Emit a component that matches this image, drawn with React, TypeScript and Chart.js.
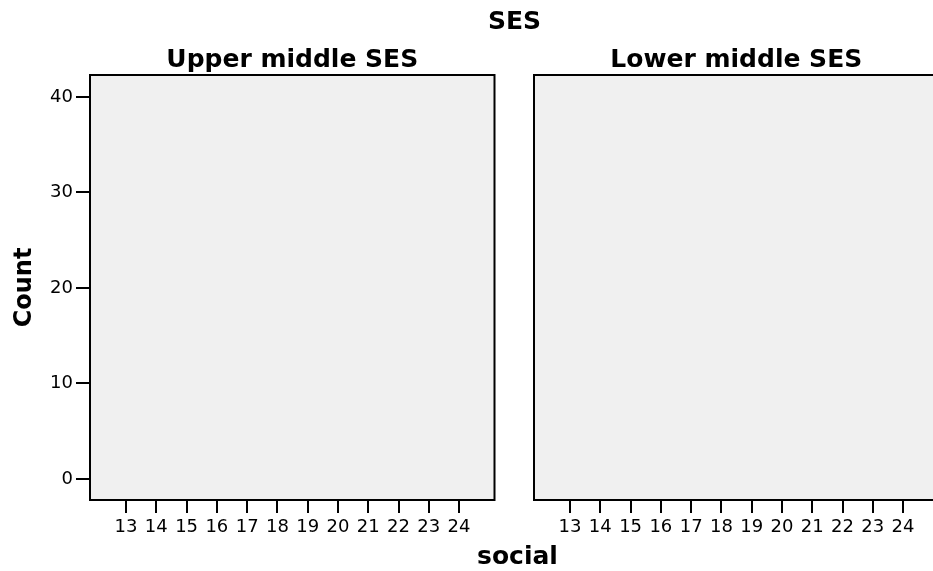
import React, { useEffect, useRef } from "react";
import { Chart, registerables } from "chart.js";

Chart.register(...registerables);

const socialTicks = [13, 14, 15, 16, 17, 18, 19, 20, 21, 22, 23, 24];
const upperMiddleCounts = [0, 0, 0, 0, 0, 0, 0, 0, 0, 0, 0, 0];
const lowerMiddleCounts = [0, 0, 0, 0, 0, 0, 0, 0, 0, 0, 0, 0];
const countTicks = [0, 10, 20, 30, 40];
const panelTitles = ["Upper middle SES", "Lower middle SES"];
const mainTitle = "SES";
const xTitle = "social";
const yTitle = "Count";

const FONT = "'DejaVu Sans', Verdana, sans-serif";

const panelPlugin = {
  id: "panelFrame",
  beforeDatasetsDraw(chart: any) {
    const { ctx, chartArea } = chart;
    ctx.save();
    ctx.fillStyle = "#f0f0f0";
    ctx.fillRect(chartArea.left, chartArea.top, chartArea.right - chartArea.left, chartArea.bottom - chartArea.top);
    ctx.restore();
  },
  afterDraw(chart: any) {
    const { ctx, chartArea } = chart;
    ctx.save();
    ctx.strokeStyle = "#000";
    ctx.lineWidth = 2;
    ctx.strokeRect(chartArea.left, chartArea.top, chartArea.right - chartArea.left, chartArea.bottom - chartArea.top);
    ctx.restore();
  },
};

function makeConfig(title: string, counts: number[], showY: boolean): any {
  return {
    type: "bar",
    data: {
      datasets: [
        {
          label: title,
          // a zero count draws no bar
          data: counts.map((c, i) => ({ x: socialTicks[i], y: c })).filter((p) => p.y > 0),
          backgroundColor: "#d2b48c",
          borderColor: "#000",
          borderWidth: 1,
          barThickness: 24,
        },
      ],
    },
    plugins: [panelPlugin],
    options: {
      animation: false,
      responsive: false,
      devicePixelRatio: 1,
      layout: { padding: { left: 0, right: 5.5, top: 0, bottom: 0 } },
      plugins: {
        legend: { display: false },
        tooltip: { enabled: false },
        title: {
          display: true,
          text: title,
          fullSize: false,
          color: "#000",
          font: { family: FONT, size: 25, weight: "bold", lineHeight: 1.2 },
          padding: { top: 45, bottom: 0 },
        },
      },
      scales: {
        x: {
          type: "linear",
          min: 11.81,
          max: 25.17,
          offset: false,
          afterBuildTicks: (scale: any) => {
            scale.ticks = socialTicks.map((v) => ({ value: v }));
          },
          afterFit: (scale: any) => {
            scale.height = 71;
          },
          border: { display: false },
          grid: {
            display: true,
            offset: false,
            drawOnChartArea: false,
            drawTicks: true,
            tickLength: 13,
            color: "#000",
            lineWidth: 2,
          },
          ticks: {
            color: "#000",
            font: { family: FONT, size: 18 },
            padding: 4,
            autoSkip: false,
            maxRotation: 0,
            callback: (v: any) => String(v),
          },
        },
        y: {
          display: true,
          min: -2.2,
          max: 42.3,
          afterBuildTicks: (scale: any) => {
            scale.ticks = countTicks.map((v) => ({ value: v }));
          },
          afterFit: (scale: any) => {
            scale.width = 90;
          },
          border: { display: false },
          grid: {
            display: showY,
            drawOnChartArea: false,
            drawTicks: true,
            tickLength: 14,
            color: "#000",
            lineWidth: 2,
          },
          ticks: {
            display: showY,
            color: "#000",
            font: { family: FONT, size: 18 },
            padding: 3,
            callback: (v: any) => String(v),
          },
          title: {
            display: showY,
            text: yTitle,
            color: "#000",
            font: { family: FONT, size: 24, weight: "bold", lineHeight: 1.2 },
            padding: { top: 10, bottom: 0 },
          },
        },
      },
    },
  };
}

export default function App() {
  const leftRef = useRef<HTMLCanvasElement>(null);
  const rightRef = useRef<HTMLCanvasElement>(null);

  useEffect(() => {
    const c1 = new Chart(leftRef.current as HTMLCanvasElement, makeConfig(panelTitles[0], upperMiddleCounts, true));
    const c2 = new Chart(rightRef.current as HTMLCanvasElement, makeConfig(panelTitles[1], lowerMiddleCounts, false));
    return () => {
      c1.destroy();
      c2.destroy();
    };
  }, []);

  const textStyle: React.CSSProperties = {
    position: "absolute",
    fontFamily: FONT,
    fontWeight: "bold",
    fontSize: "25px",
    lineHeight: "28px",
    color: "#000",
    textAlign: "center",
    width: "200px",
    whiteSpace: "nowrap",
  };

  return (
    <div
      style={{
        position: "fixed",
        left: 0,
        top: 0,
        width: 933,
        height: 571,
        overflow: "hidden",
        background: "#fff",
      }}
    >
      <canvas ref={leftRef} width={500} height={571} style={{ position: "absolute", left: 0, top: 0 }} />
      <canvas ref={rightRef} width={500} height={571} style={{ position: "absolute", left: 444, top: 0 }} />
      <div style={{ ...textStyle, left: 414.5, top: 7 }}>{mainTitle}</div>
      <div style={{ ...textStyle, left: 417.5, top: 542 }}>{xTitle}</div>
    </div>
  );
}
